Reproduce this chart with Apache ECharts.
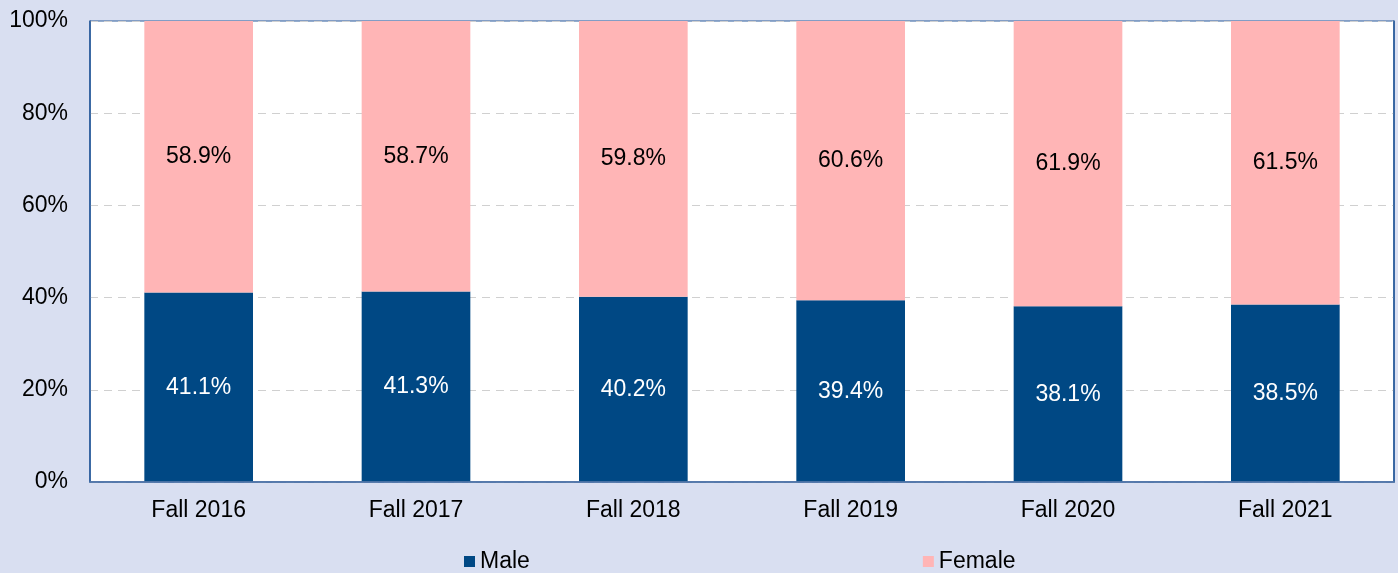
<!DOCTYPE html>
<html>
<head>
<meta charset="utf-8">
<script src="https://cdn.jsdelivr.net/npm/echarts@6/dist/echarts.min.js"></script>
<style>
html,body{margin:0;padding:0;background:#D9DFF1;}
#c{width:1398px;height:573px;}
</style>
</head>
<body>
<div id="c"></div>
<script>
const categories = ['Fall 2016','Fall 2017','Fall 2018','Fall 2019','Fall 2020','Fall 2021'];
const male = [41.1, 41.3, 40.2, 39.4, 38.1, 38.5];
const female = [58.9, 58.7, 59.8, 60.6, 61.9, 61.5];
const seriesNames = ['Male','Female'];

const font = 'Liberation Sans, Arial, sans-serif';
const chart = echarts.init(document.getElementById('c'), null, {renderer:'canvas'});
chart.setOption({
  backgroundColor:'#D9DFF1',
  animation:false,
  textStyle:{fontFamily:font},
  grid:{left:90,right:4,top:21,bottom:91,show:true,backgroundColor:'#FFFFFF',borderColor:'#2A5B99',borderWidth:1},
  legend:{
    data:seriesNames,
    left:459,
    top:545,
    icon:'rect',
    itemWidth:11,itemHeight:11,
    itemGap:393,
    textStyle:{fontSize:23,color:'#000',fontFamily:font}
  },
  xAxis:[{
    type:'category',
    data:categories,
    axisLine:{show:true,lineStyle:{color:'#1F5597',width:1.5}},
    axisTick:{show:false},
    axisLabel:{fontSize:23,color:'#000',margin:17,fontFamily:font}
  },{
    type:'category',
    position:'top',
    z:10,
    data:categories,
    axisLine:{show:true,lineStyle:{color:'#5F7FAF',width:1.5}},
    axisTick:{show:false},
    axisLabel:{show:false},
    splitLine:{show:false}
  }],
  yAxis:[{
    type:'value',
    min:0,max:100,interval:20,
    axisLine:{show:true,lineStyle:{color:'#1F5597',width:1.5}},
    axisTick:{show:false},
    axisLabel:{fontSize:23,color:'#000',margin:22,formatter:'{value}%',fontFamily:font},
    splitLine:{show:true,lineStyle:{color:'#D0D0D0',type:[8,6],width:1}}
  },{
    type:'value',
    position:'right',
    z:10,
    min:0,max:100,interval:20,
    axisLine:{show:true,lineStyle:{color:'#1F5597',width:1.5}},
    axisTick:{show:false},
    axisLabel:{show:false},
    splitLine:{show:false}
  }],
  series:[
    {name:seriesNames[0],type:'bar',stack:'a',data:male,barWidth:'50%',
     itemStyle:{color:'#004884'},
     label:{show:true,position:'inside',formatter:'{c}%',color:'#FFFFFF',fontSize:23,fontFamily:font}},
    {name:seriesNames[1],type:'bar',stack:'a',data:female,barWidth:'50%',
     itemStyle:{color:'#FFB5B6'},
     label:{show:true,position:'inside',formatter:'{c}%',color:'#000000',fontSize:23,fontFamily:font}}
  ]
});
</script>
</body>
</html>
